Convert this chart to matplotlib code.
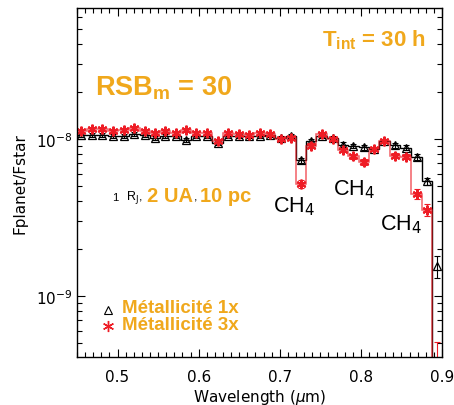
import numpy as np
import matplotlib
matplotlib.use('Agg')
import matplotlib.pyplot as plt
from matplotlib.ticker import MultipleLocator, LogLocator, NullFormatter

# binned spectrum (micron), contrast in units of 1e-8
wavelength = [0.4552, 0.4688, 0.4811, 0.4942, 0.5074, 0.5206, 0.5337, 0.5460, 0.5589,
              0.5716, 0.5840, 0.5972, 0.6102, 0.6238, 0.6362, 0.6494, 0.6621, 0.6753,
              0.6885, 0.7009, 0.7136, 0.7259, 0.7381, 0.7515, 0.7651, 0.7781, 0.7905,
              0.8037, 0.8164, 0.8288, 0.8420, 0.8552, 0.8688, 0.8811, 0.8935]
flux_1x = [1.06, 1.06, 1.06, 1.045, 1.045, 1.07, 1.055, 1.01, 1.05,
           1.05, 0.99, 1.045, 1.05, 0.94, 1.04, 1.04, 1.04, 1.05,
           1.055, 1.01, 1.05, 0.73, 0.964, 1.05, 1.01, 0.92, 0.90,
           0.885, 0.864, 0.975, 0.91, 0.88, 0.768, 0.536, 0.156]
flux_3x = [1.13, 1.15, 1.15, 1.125, 1.14, 1.166, 1.116, 1.097, 1.125,
           1.095, 1.14, 1.09, 1.09, 0.97, 1.087, 1.076, 1.06, 1.084,
           1.076, 1.0, 1.015, 0.517, 0.906, 1.076, 1.0, 0.85, 0.776,
           0.71, 0.864, 0.975, 0.783, 0.77, 0.447, 0.353, 0.027]
err_1x = [0.03, 0.03, 0.03, 0.03, 0.03, 0.03, 0.03, 0.03, 0.03,
          0.03, 0.03, 0.03, 0.03, 0.03, 0.03, 0.03, 0.03, 0.03,
          0.03, 0.03, 0.03, 0.03, 0.03, 0.03, 0.03, 0.03, 0.03,
          0.03, 0.03, 0.03, 0.03, 0.03, 0.03, 0.03, 0.025]
err_3x = [0.03, 0.03, 0.03, 0.03, 0.03, 0.03, 0.03, 0.03, 0.03,
          0.03, 0.03, 0.03, 0.03, 0.03, 0.03, 0.03, 0.03, 0.03,
          0.03, 0.03, 0.03, 0.03, 0.03, 0.03, 0.03, 0.03, 0.03,
          0.03, 0.03, 0.03, 0.03, 0.03, 0.03, 0.03, 0.024]

orange = '#f0a81c'
red = '#ee1c25'

plt.rcParams['mathtext.fontset'] = 'custom'
plt.rcParams['mathtext.rm'] = 'DejaVu Sans'
plt.rcParams['mathtext.it'] = 'DejaVu Sans:italic'
plt.rcParams['mathtext.bf'] = 'Liberation Sans:bold'

wl = np.array(wavelength)
f1 = np.array(flux_1x) * 1e-8
f3 = np.array(flux_3x) * 1e-8
e1 = np.array(err_1x) * 1e-8
e3 = np.array(err_3x) * 1e-8

# histogram edges from bin centres
mid = (wl[1:] + wl[:-1]) / 2
edges = np.concatenate([[wl[0] - (mid[0] - wl[0])], mid, [wl[-1] + (wl[-1] - mid[-1])]])
# last bin of the curves falls to zero
line1 = np.append(f1[:-1], 1e-13)
line3 = np.append(f3[:-1], 1e-13)

fig = plt.figure(figsize=(4.54, 4.06), dpi=100)
ax = fig.add_axes([77/454, 1 - 358/406, (442 - 77)/454, (358 - 9)/406])

ax.stairs(line1, edges, baseline=None, color='k', lw=1.0)
ax.stairs(line3, edges, baseline=None, color=red, lw=1.1, alpha=0.7)

ax.errorbar(wl, f1, yerr=e1, fmt='none', ecolor='k', elinewidth=0.8, capsize=2.5, capthick=0.8)
ax.plot(wl, f1, ls='none', marker='^', ms=6, mfc='none', mec='k', mew=0.9)
ax.errorbar(wl, f3, yerr=e3, fmt='none', ecolor=red, elinewidth=0.8, capsize=2.5, capthick=0.8)
ax.plot(wl, f3, ls='none', marker=(6, 2, 0), ms=7, mec=red, mew=1.5)

ax.set_yscale('log')
ax.set_xlim(0.45, 0.9)
ax.set_ylim(4.1e-10, 6.8e-8)
ax.xaxis.set_major_locator(MultipleLocator(0.1))
ax.xaxis.set_minor_locator(MultipleLocator(0.01))
ax.yaxis.set_major_locator(LogLocator(base=10))
ax.yaxis.set_minor_locator(LogLocator(base=10, subs=np.arange(2, 10)))
ax.yaxis.set_minor_formatter(NullFormatter())
ax.tick_params(which='both', direction='in', top=True, right=True, labelsize=11, width=0.8)
ax.tick_params(which='major', length=6)
ax.tick_params(which='minor', length=3.5)
ax.tick_params(axis='x', which='major', pad=9)
for lab in ax.get_xticklabels() + ax.get_yticklabels():
    lab.set_family('DejaVu Sans')
for s in ax.spines.values():
    s.set_linewidth(1.0)

ax.set_xlabel(r'Wavelength ($\mu$m)', fontsize=11, family='DejaVu Sans', labelpad=1.5)
ax.set_ylabel('Fplanet/Fstar', fontsize=11, family='DejaVu Sans', labelpad=6)

def ftext(px, py, s, **kw):
    fig.text(px / 454, 1 - py / 406, s, **kw)

ftext(322, 40, r'$\mathbf{T_{int}}$' + ' = 30 h', color=orange, fontsize=16,
      family='Liberation Sans', weight='bold', va='center')
ftext(95, 88, r'$\mathbf{RSB_m}$' + ' = 30', color=orange, fontsize=19.5,
      family='Liberation Sans', weight='bold', va='center')

ftext(112, 198, '1', fontsize=8, family='Liberation Sans', va='center')
ftext(126, 198, r'R$_\mathrm{J}$,', fontsize=9, family='Liberation Sans', va='center')
ftext(147, 197, '2 UA', color=orange, fontsize=14.5, family='Liberation Sans',
      weight='bold', va='center')
ftext(194, 198, ',', fontsize=9, family='Liberation Sans', va='center')
ftext(200, 197, '10 pc', color=orange, fontsize=14.5, family='Liberation Sans',
      weight='bold', va='center')

for px, py in [(273, 212), (333, 195), (380, 230)]:
    ftext(px, py, r'CH$_4$', fontsize=15.5, family='Liberation Sans', va='baseline')

# legend
ax.plot([108.3 / 454], [1 - 311 / 406], transform=fig.transFigure, marker='^', ms=6,
        mfc='none', mec='k', mew=0.8, ls='none', clip_on=False)
ax.plot([108.3 / 454], [1 - 326.5 / 406], transform=fig.transFigure, marker=(6, 2, 0),
        ms=8, mec=red, mew=1.0, ls='none', clip_on=False)
ftext(122, 308.5, 'Métallicité 1x', color=orange, fontsize=13.5, family='Liberation Sans',
      weight='bold', va='center')
ftext(122, 325.5, 'Métallicité 3x', color=orange, fontsize=13.5, family='Liberation Sans',
      weight='bold', va='center')

fig.savefig('out.png', dpi=100)
